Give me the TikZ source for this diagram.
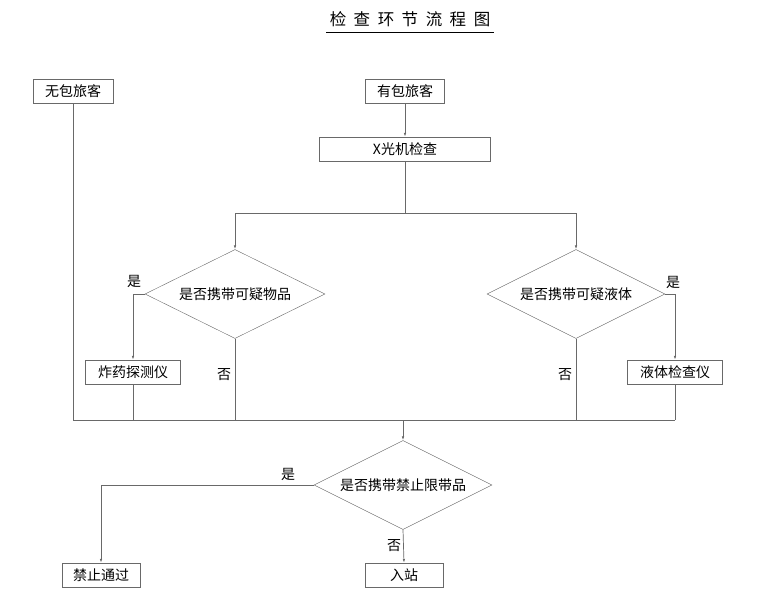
\documentclass[tikz,border=0pt]{standalone}
\usepackage{fontspec}
\newfontfamily\cjk{Noto Sans CJK SC}
\usetikzlibrary{shapes.geometric,arrows.meta}
\definecolor{linegray}{RGB}{105,105,105}

\begin{document}
\begin{tikzpicture}[x=1pt,y=-1pt,
    every node/.style={font=\cjk\fontsize{14}{16}\selectfont},
    box/.style={draw=linegray,minimum height=24pt,inner sep=0pt},
    decision/.style={draw=linegray,diamond,aspect=2,inner sep=0pt,
                     minimum width=178pt,minimum height=89pt},
    flow/.style={draw=linegray,line width=0.7pt},
    arr/.style={flow,-{Latex[length=4pt,width=2.5pt]}}]
    \useasboundingbox (0,0) rectangle (760,608);

    % title
    \node[font=\cjk\fontsize{16.5}{18}\selectfont] (title) at (410,19)
        {检\hspace{7.5pt}查\hspace{7.5pt}环\hspace{7.5pt}节\hspace{7.5pt}流\hspace{7.5pt}程\hspace{7.5pt}图};
    \draw[line width=1.2pt] ([yshift=-2pt]title.south west) -- ([yshift=-2pt]title.south east);

    % boxes
    \node[box,minimum width=80pt] (nobag) at (73,91) {无包旅客};
    \node[box,minimum width=79pt] (bag) at (405,91) {有包旅客};
    \node[box,minimum width=171pt] (xray) at (405,149) {X光机检查};
    \node[decision,minimum width=180pt] (item) at (235,294) {是否携带可疑物品};
    \node[decision] (liquid) at (576,294) {是否携带可疑液体};
    \node[box,minimum width=95pt] (explo) at (133,372) {炸药探测仪};
    \node[box,minimum width=95pt] (liqtest) at (675,372) {液体检查仪};
    \node[decision] (banned) at (403,485) {是否携带禁止限带品};
    \node[box,minimum width=78pt] (stop) at (101,575) {禁止通过};
    \node[box,minimum width=78pt] (enter) at (404,575) {入站};

    \coordinate (split) at (405,213);
    \coordinate (merge) at (403,420);
    \coordinate (leftend) at (73,420);
    \coordinate (rightend) at (675,420);

    % connectors
    \draw[arr] (bag) -- (xray);
    \draw[flow] (xray) -- (split);
    \draw[arr] (split) -| (item.north);
    \draw[arr] (split) -| (liquid.north);

    \draw[arr] (item.west) -| (explo.north);
    \draw[arr] (liquid.east) -| (liqtest.north);
    \node at (134,281) {是};
    \node at (673,282) {是};

    \draw[flow] (nobag) -- (leftend) -- (rightend);
    \draw[flow] (explo) -- (explo |- merge);
    \draw[flow] (item.south) -- (item.south |- merge);
    \draw[flow] (liquid.south) -- (liquid.south |- merge);
    \draw[flow] (liqtest) -- (rightend);
    \node at (224,375) {否};
    \node at (565,375) {否};

    \draw[arr] (merge) -- (banned.north);
    \draw[arr] (banned.west) -| (stop.north);
    \node at (288,474) {是};
    \draw[arr] (banned.south) -- (enter.north);
    \node at (394,546) {否};

\end{tikzpicture}
\end{document}
